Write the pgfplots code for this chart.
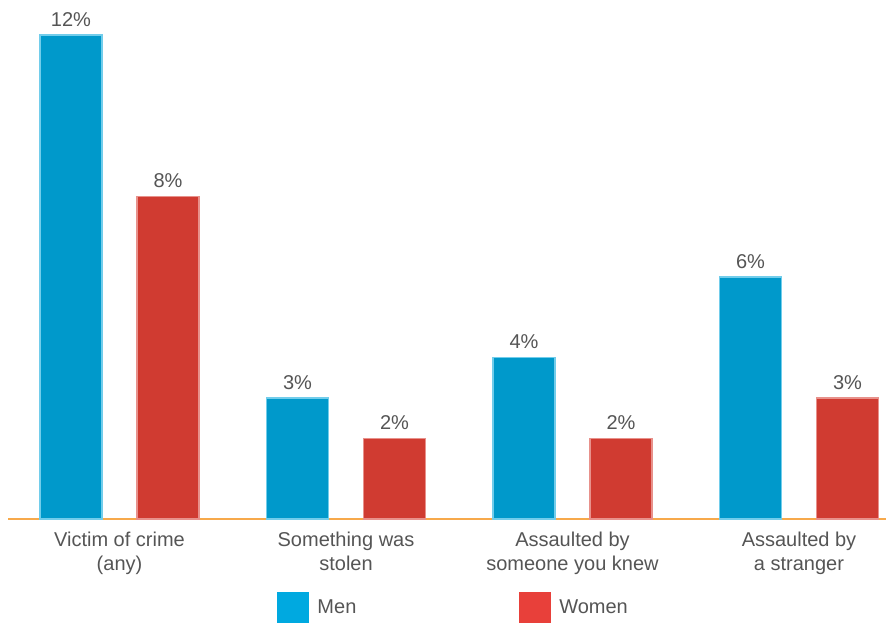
\documentclass[border=0pt]{standalone}
\usepackage{pgfplots}
\pgfplotsset{compat=1.18}
\usepackage{fontspec}
\setmainfont{Liberation Sans}
\definecolor{menbar}{HTML}{0099CB}
\definecolor{menedge}{HTML}{72CDEB}
\definecolor{womenbar}{HTML}{D03B31}
\definecolor{womenedge}{HTML}{E8918B}
\definecolor{menleg}{HTML}{00A9E0}
\definecolor{womenleg}{HTML}{E8403A}
\definecolor{axisorange}{HTML}{F7A94B}
\definecolor{labelgray}{HTML}{555555}
\begin{document}
\begin{tikzpicture}
\begin{axis}[
  scale only axis, width=658.5pt, height=389.25pt,
  xmin=-0.4923, xmax=3.3841, ymin=0, ymax=12.87,
  axis x line*=bottom, axis y line=none,
  x axis line style={draw=axisorange, line width=2pt},
  xtick={0,1,2,3},
  xticklabels={{Victim of crime\\(any)},{Something was\\stolen},{Assaulted by\\someone you knew},{Assaulted by\\a stranger}},
  major tick length=0pt,
  xticklabel style={align=center, font=\fontsize{15}{18}\selectfont, text=labelgray, inner sep=0pt, yshift=-9.5pt},
  ybar, bar width=46.5pt,
  nodes near coords={\pgfmathprintnumber[assume math mode=true]{\pgfplotspointmeta}\%},
  every node near coord/.append style={font=\fontsize{15}{18}\selectfont, text=labelgray, anchor=south, inner sep=0pt, yshift=6pt},
  clip=false,
  legend columns=2,
  legend style={draw=none, fill=none, at={(0.3064,-0.1407)}, anchor=north west, inner sep=0pt,
    font=\fontsize{15}{18}\selectfont, text=labelgray,
    /tikz/every odd column/.append style={column sep=4.5pt},
    /tikz/every even column/.append style={column sep=120pt}},
  legend cell align=left,
]
\addplot[forget plot, bar shift=-36.375pt, fill=menbar, draw=menedge, line width=1pt] coordinates {(0,12) (1,3) (2,4) (3,6)};
\addplot[forget plot, bar shift=36.375pt, fill=womenbar, draw=womenedge, line width=1pt] coordinates {(0,8) (1,2) (2,2) (3,3)};
\addlegendimage{legend image code/.code={\fill[menleg] (0pt,-11.625pt) rectangle (23.25pt,11.625pt);}}
\addlegendentry{Men}
\addlegendimage{legend image code/.code={\fill[womenleg] (0pt,-11.625pt) rectangle (23.25pt,11.625pt);}}
\addlegendentry{Women}
\end{axis}
\pgfresetboundingbox
\path (current axis.south west) ++(-6pt,-78pt) rectangle (current axis.north east);
\end{tikzpicture}
\end{document}
